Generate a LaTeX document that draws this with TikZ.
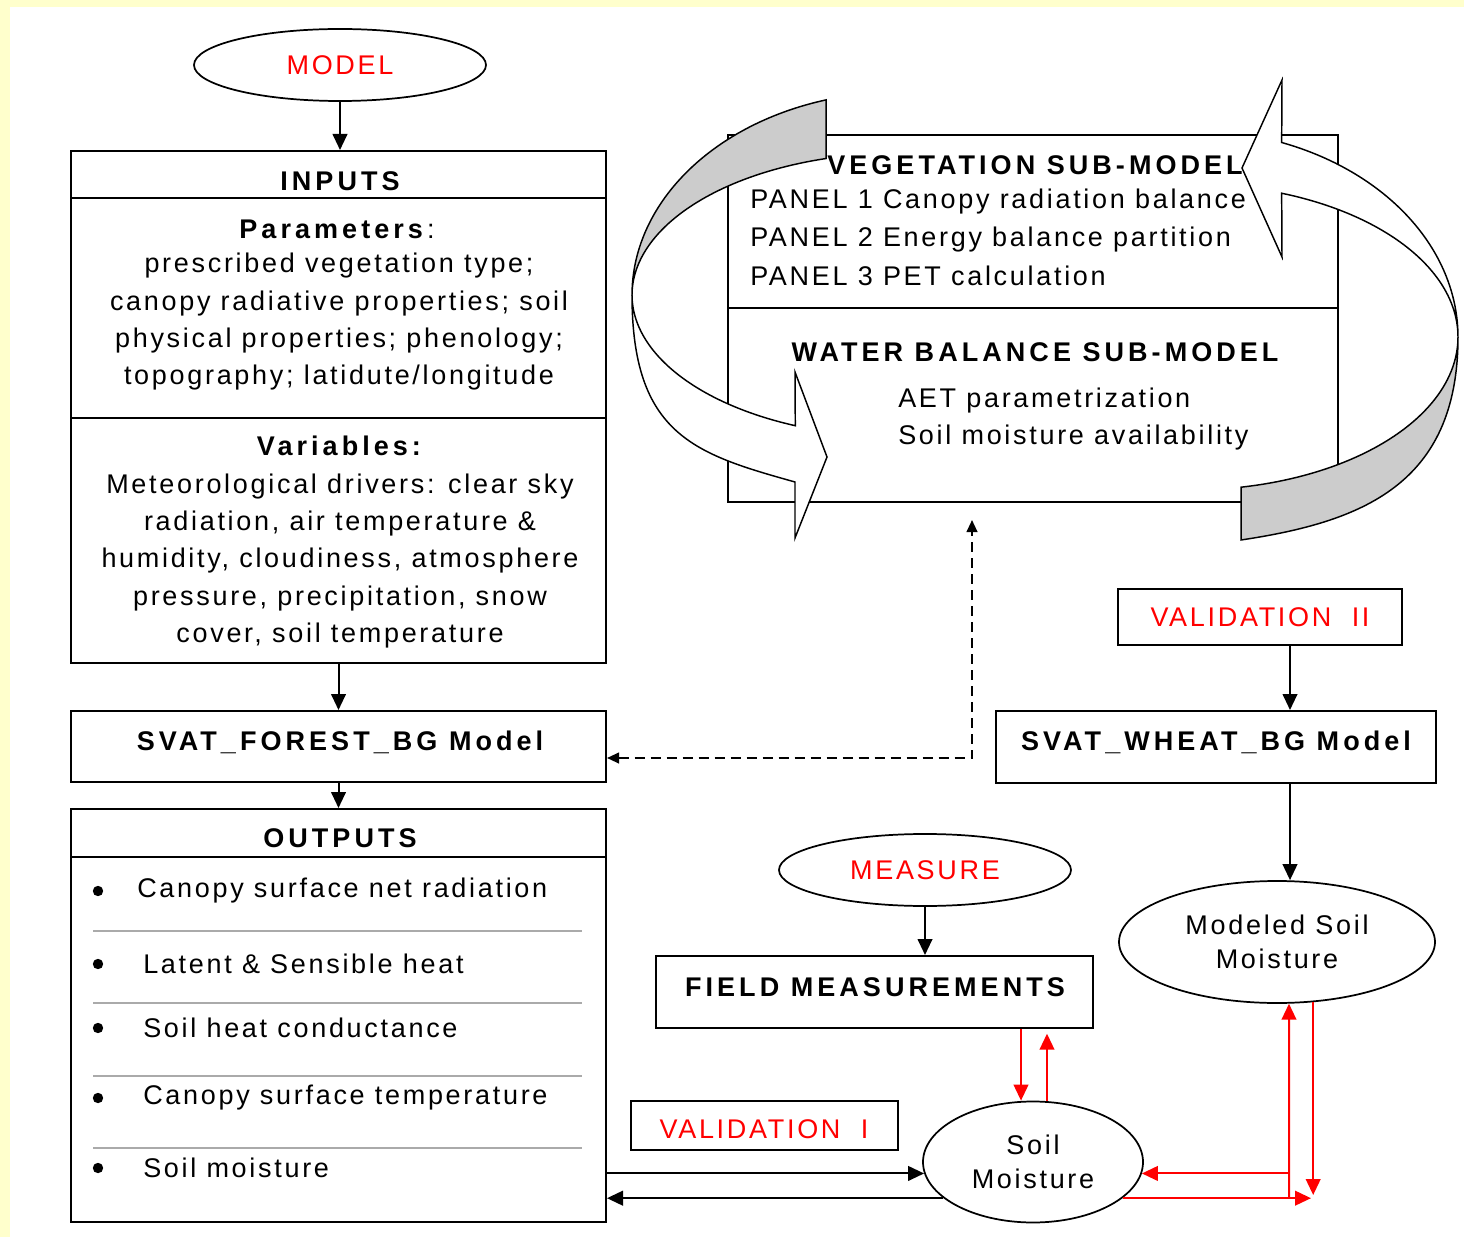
\documentclass[tikz,border=0pt]{standalone}
\usepackage{fontspec}
\setmainfont{Liberation Sans}[LetterSpace=10, BoldFeatures={LetterSpace=15}]
\usetikzlibrary{arrows.meta,shapes.geometric,fit,calc}
\definecolor{bgyellow}{HTML}{FFFFCC}
\definecolor{bandgray}{HTML}{CCCCCC}
\definecolor{sepgray}{HTML}{AAAAAA}
\begin{document}
\begin{tikzpicture}[x=0.75pt,y=-0.75pt,
  txt/.style={font=\fontsize{20.25pt}{28pt}\selectfont, inner sep=0pt},
  hdr/.style={font=\fontsize{20.25pt}{28pt}\selectfont\bfseries, inner sep=0pt},
  redtxt/.style={txt, text=red},
  box/.style={draw, line width=1.5pt, inner sep=0pt},
  oval/.style={draw, ellipse, line width=1.3pt, inner sep=0pt, align=center, font=\fontsize{20.25pt}{26pt}\selectfont},
  sep/.style={line width=1.5pt},
  grayline/.style={line width=1.5pt, draw=sepgray},
  arr/.style={line width=1.5pt, -{Triangle[length=12pt,width=11pt]}},
  redarr/.style={arr, draw=red, fill=red},
  dsh/.style={line width=1.5pt, dash pattern=on 7.5pt off 4.5pt},
  band/.style={line width=1.1pt, line join=miter}
]
\useasboundingbox (0,0) rectangle (1464,1237);
\fill[bgyellow] (0,0) rectangle (1464,1237);
\fill[white] (10,7) rectangle (1464,1237);

% ---------------- left column ----------------
\node[oval, minimum width=219pt, minimum height=54pt] (model) at (340,65) {\textcolor{red}{MODEL}};

\node[box, fit={(71,151)(606,663)}] (inputs) {};
\draw[sep] (inputs.west |- 0,198) -- (inputs.east |- 0,198);
\draw[sep] (inputs.west |- 0,418) -- (inputs.east |- 0,418);
\node[hdr] (tinputs) at (340,181) {INPUTS};
\node[txt] (tparam) at (337,229) {\textbf{Parameters}:};
\node[txt, align=center] (tparambody) at (339,322) {prescribed vegetation type;\\canopy radiative properties; soil\\physical properties; phenology;\\topography; latidute/longitude};
\node[hdr] (tvar) at (339,446) {Variables:};
\node[txt, align=center] (tvarbody) at (340,561) {Meteorological drivers: clear sky\\radiation, air temperature \&\\humidity, cloudiness, atmosphere\\pressure, precipitation, snow\\cover, soil temperature};

\node[box, fit={(71,711)(606,782)}] (forest) {};
\node[hdr] (tforest) at (340,742) {SVAT\_FOREST\_BG Model};

\node[box, fit={(71,809)(606,1222)}] (outputs) {};
\draw[sep] (outputs.west |- 0,857) -- (outputs.east |- 0,857);
\node[hdr] (toutputs) at (340,838) {OUTPUTS};
\foreach \yy in {931,1003,1076,1148} \draw[grayline] (93,\yy) -- (582,\yy);
\foreach \yy in {891,964,1028,1098,1168} \fill (98,\yy) circle[radius=3.9pt];
\node[txt, anchor=west] (o1) at (137,891) {Canopy surface net radiation};
\node[txt, anchor=west] (o2) at (143,964) {Latent \& Sensible heat};
\node[txt, anchor=west] (o3) at (143,1028) {Soil heat conductance};
\node[txt, anchor=west] (o4) at (143,1098) {Canopy surface temperature};
\node[txt, anchor=west] (o5) at (143,1168) {Soil moisture};

\draw[arr] (model.south) -- (model.south |- inputs.north);
\draw[arr] (inputs.south) -- (forest.north);
\draw[arr] (forest.south) -- (outputs.north);

% ---------------- sub-model block ----------------
\node[box, line width=1.3pt, fit={(728,135)(1338,502)}] (veg) {};
\draw[line width=1.3pt] (veg.west |- 0,308) -- (veg.east |- 0,308);

% left curved arrow: back (gray) part
\filldraw[band, fill=bandgray]
  plot[domain=254:180, samples=50] ({900+268*cos(\x)},{295+203*sin(\x)})
  -- plot[domain=180:254, samples=50] ({900+268*cos(\x)},{295+142*sin(\x)}) -- cycle;
% left curved arrow: front (white) part
\filldraw[band, fill=white]
  plot[domain=180:113, samples=50] ({900+268*cos(\x)},{295+142*sin(\x)})
  -- (795,372) -- (827,457) -- (795,538) -- (795,482)
  .. controls (695,454) and (632,435) .. (632,295) -- cycle;
% right curved arrow: back (gray) part
\filldraw[band, fill=bandgray]
  (1241,540) .. controls (1361,522) and (1458,485) .. (1458,337)
  -- plot[domain=0:79, samples=50] ({1190+268*cos(\x)},{337+153*sin(\x)}) -- cycle;
% right curved arrow: front (white) part
\filldraw[band, fill=white]
  plot[domain=0:-70, samples=50] ({1190+268*cos(\x)},{337+207*sin(\x)})
  -- (1282,80) -- (1242,168) -- (1282,257)
  -- plot[domain=-70:0, samples=50] ({1190+268*cos(\x)},{337+153*sin(\x)}) -- cycle;

\node[hdr] (tveg) at (1035,165) {VEGETATION SUB-MODEL};
\node[txt, anchor=west] (p1) at (750,202) {PANEL 1 Canopy radiation balance};
\node[txt, anchor=west] (p2) at (750,240) {PANEL 2 Energy balance partition};
\node[txt, anchor=west] (p3) at (750,276) {PANEL 3 PET calculation};
\node[hdr] (twat) at (1035,352) {WATER BALANCE SUB-MODEL};
\node[txt, anchor=west] (w1) at (898,401) {AET parametrization};
\node[txt, anchor=west] (w2) at (898,438) {Soil moisture availability};

% dashed feedback
\coordinate (dtop) at (972,520);
\coordinate (dcorner) at (972,758);
\draw[dsh, {Triangle[length=9pt,width=8pt]}-{Triangle[length=9pt,width=8pt]}] (forest.east |- dcorner) -- (dcorner) -- (dtop);

% ---------------- right column ----------------
\node[box, fit={(1118,589)(1402,645)}] (val2) {};
\node[redtxt] (tval2) at (1260,617) {VALIDATION \ II};
\node[box, fit={(996,711)(1436,783)}] (wheat) {};
\node[hdr] (twheat) at (1216,742) {SVAT\_WHEAT\_BG Model};
\node[oval, minimum width=237pt, minimum height=91.5pt] (modeled) at (1277,942) {Modeled Soil\\Moisture};
\coordinate (wx) at (1290,0);
\draw[arr] (val2.south -| wx) -- (wheat.north -| wx);
\draw[arr] (wheat.south -| wx) -- (modeled.north -| wx);

\node[oval, minimum width=219pt, minimum height=54pt] (measure) at (925,870) {\textcolor{red}{MEASURE}};
\node[box, fit={(656,956)(1093,1028)}] (field) {};
\node[hdr] (tfield) at (875,987) {FIELD MEASUREMENTS};
\draw[arr] (measure.south) -- (measure.south |- field.north);

\node[box, fit={(631,1101)(898,1150)}] (val1) {};
\node[redtxt] (tval1) at (764,1129) {VALIDATION \ I};

\node[oval, minimum width=165pt, minimum height=90.75pt] (soil) at (1033,1162) {Soil\\Moisture};

% field <-> soil (red)
\coordinate (fa) at (1021,0);
\coordinate (fb) at (1047,0);
\draw[redarr] (field.south -| fa) -- (soil.north -| fa);
\draw[redarr, shorten >=3.5pt] (soil.north -| fb) -- (field.south -| fb);

% outputs <-> soil (black)
\draw[arr] (outputs.east |- soil.186) -- (soil.186);
\draw[arr] (soil.202) -- (outputs.east |- soil.202);

% modeled <-> soil (red)
\coordinate (rx1) at (1289,0);
\coordinate (rx2) at (1311,0);
\coordinate (r1) at (rx1 |- soil.338);
\coordinate (r2) at (rx1 |- soil.354);
\coordinate (r3) at (1313,1195);
\coordinate (r4) at (rx2 |- soil.338);
\draw[redarr] (r1) -- (modeled.281);
\draw[redarr] (r2) -- (soil.354);
\draw[redarr] (modeled.301) -- (modeled.301 |- r3);
\draw[redarr] (soil.338) -- (r4);
\end{tikzpicture}
\end{document}
